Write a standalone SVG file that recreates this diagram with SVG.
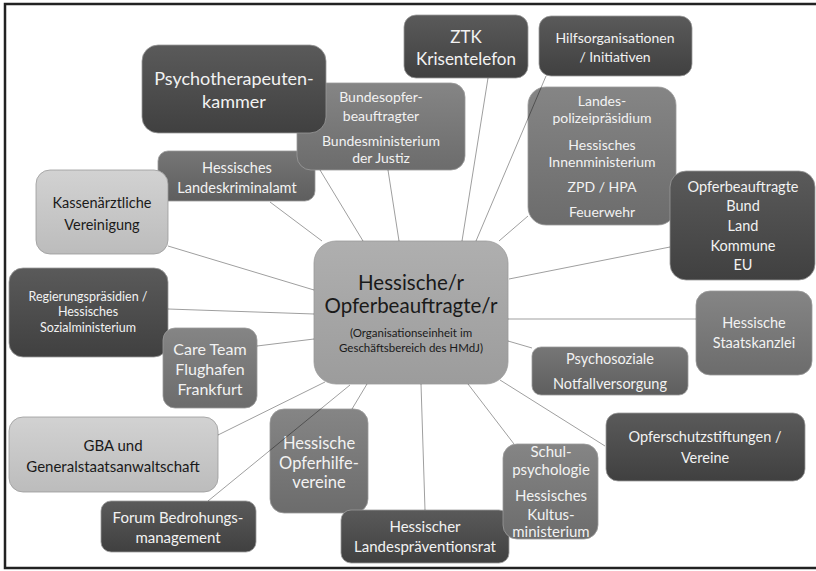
<svg xmlns="http://www.w3.org/2000/svg" width="816" height="571" viewBox="0 0 816 571">
<defs>
<linearGradient id="gDark" x1="0" y1="0" x2="0" y2="1"><stop offset="0" stop-color="#5a5a5a"/><stop offset="1" stop-color="#404040"/></linearGradient>
<linearGradient id="gMid" x1="0" y1="0" x2="0" y2="1"><stop offset="0" stop-color="#858585"/><stop offset="1" stop-color="#6c6c6c"/></linearGradient>
<linearGradient id="gMidD" x1="0" y1="0" x2="0" y2="1"><stop offset="0" stop-color="#767676"/><stop offset="1" stop-color="#5e5e5e"/></linearGradient>
<linearGradient id="gLight" x1="0" y1="0" x2="0" y2="1"><stop offset="0" stop-color="#d2d2d2"/><stop offset="1" stop-color="#bcbcbc"/></linearGradient>
<linearGradient id="gCenter" x1="0" y1="0" x2="0" y2="1"><stop offset="0" stop-color="#afafaf"/><stop offset="1" stop-color="#9c9c9c"/></linearGradient>
</defs>
<style>
rect.n{stroke:#9a9a9a;stroke-width:0.8}
.dark{fill:url(#gDark)}
.mid{fill:url(#gMid)}
.midd{fill:url(#gMidD)}
.light{fill:url(#gLight)}
.center{fill:url(#gCenter)}
text{font-family:Lato,"Open Sans","Liberation Sans",sans-serif;text-anchor:middle}
.w{fill:#f2f2f2}
.b{fill:#1a1a1a}
#connectors line{stroke:#000;stroke-opacity:0.38;stroke-width:1}
</style>
<rect x="0" y="0" width="816" height="571" fill="#ffffff"/>
<rect x="5" y="4" width="816" height="564" fill="none" stroke="#222" stroke-width="2.5"/>

<g id="n-lka"><rect class="n midd" x="158" y="151" width="157" height="50" rx="10"/>
<text class="w" font-size="14.5"><tspan x="237" y="173">Hessisches</tspan><tspan x="237" y="193">Landeskriminalamt</tspan></text></g>

<g id="n-bundesopfer"><rect class="n mid" x="297" y="83" width="168" height="87" rx="14"/>
<text class="w" font-size="14"><tspan x="381" y="102">Bundesopfer-</tspan><tspan x="381" y="121">beauftragter</tspan><tspan x="381" y="146">Bundesministerium</tspan><tspan x="381" y="163">der Justiz</tspan></text></g>

<g id="n-psychotherapeuten"><rect class="n dark" x="142" y="45" width="184" height="88" rx="16"/>
<text class="w" font-size="18"><tspan x="234" y="85">Psychotherapeuten-</tspan><tspan x="234" y="108">kammer</tspan></text></g>

<g id="n-kassen"><rect class="n light" x="36" y="170" width="132" height="84" rx="14"/>
<text class="b" font-size="14.5"><tspan x="102" y="208">Kassenärztliche</tspan><tspan x="102" y="230">Vereinigung</tspan></text></g>

<g id="n-ztk"><rect class="n dark" x="404" y="15" width="124" height="63" rx="12"/>
<text class="w" font-size="17"><tspan x="466" y="43">ZTK</tspan><tspan x="466" y="65">Krisentelefon</tspan></text></g>

<g id="n-hilfs"><rect class="n dark" x="539" y="16" width="153" height="60" rx="12"/>
<text class="w" font-size="14"><tspan x="615" y="43">Hilfsorganisationen</tspan><tspan x="615" y="62">/ Initiativen</tspan></text></g>

<g id="n-landespolizei"><rect class="n mid" x="528" y="87" width="148" height="138" rx="18"/>
<text class="w" font-size="14"><tspan x="602" y="106">Landes-</tspan><tspan x="602" y="123">polizeipräsidium</tspan><tspan x="602" y="150">Hessisches</tspan><tspan x="602" y="167">Innenministerium</tspan><tspan x="602" y="192">ZPD / HPA</tspan><tspan x="602" y="217">Feuerwehr</tspan></text></g>

<g id="n-opferbeauftragte"><rect class="n dark" x="670" y="171" width="145" height="109" rx="16"/>
<text class="w" font-size="14.5"><tspan x="743" y="192">Opferbeauftragte</tspan><tspan x="743" y="211">Bund</tspan><tspan x="743" y="231">Land</tspan><tspan x="743" y="251">Kommune</tspan><tspan x="743" y="270">EU</tspan></text></g>

<g id="n-center"><rect class="n center" x="314" y="241" width="194" height="143" rx="22"/>
<text class="b" font-size="20.5"><tspan x="411" y="290">Hessische/r</tspan><tspan x="411" y="313">Opferbeauftragte/r</tspan></text>
<text class="b" font-size="11.5"><tspan x="411" y="337">(Organisationseinheit im</tspan><tspan x="411" y="352">Geschäftsbereich des  HMdJ)</tspan></text></g>

<g id="n-regierung"><rect class="n dark" x="9" y="268" width="159" height="89" rx="14"/>
<text class="w" font-size="12.5"><tspan x="88" y="301">Regierungspräsidien /</tspan><tspan x="88" y="316">Hessisches</tspan><tspan x="88" y="332">Sozialministerium</tspan></text></g>

<g id="n-care"><rect class="n mid" x="163" y="328" width="94" height="80" rx="12"/>
<text class="w" font-size="16"><tspan x="210" y="355">Care Team</tspan><tspan x="210" y="375">Flughafen</tspan><tspan x="210" y="395">Frankfurt</tspan></text></g>

<g id="n-gba"><rect class="n light" x="9" y="417" width="209" height="75" rx="14"/>
<text class="b" font-size="15"><tspan x="113" y="451">GBA und</tspan><tspan x="113" y="472">Generalstaatsanwaltschaft</tspan></text></g>

<g id="n-opferhilfe"><rect class="n mid" x="270" y="409" width="98" height="104" rx="14"/>
<text class="w" font-size="16.5"><tspan x="319" y="449">Hessische</tspan><tspan x="319" y="469">Opferhilfe-</tspan><tspan x="319" y="488">vereine</tspan></text></g>

<g id="n-forum"><rect class="n dark" x="101" y="501" width="155" height="51" rx="10"/>
<text class="w" font-size="15"><tspan x="178" y="523">Forum Bedrohungs-</tspan><tspan x="178" y="543">management</tspan></text></g>

<g id="n-landespraev"><rect class="n dark" x="341" y="510" width="168" height="53" rx="10"/>
<text class="w" font-size="15"><tspan x="425" y="532">Hessischer</tspan><tspan x="425" y="552">Landespräventionsrat</tspan></text></g>

<g id="n-schul"><rect class="n mid" x="503" y="444" width="95" height="95" rx="14"/>
<text class="w" font-size="15"><tspan x="551" y="457">Schul-</tspan><tspan x="551" y="475">psychologie</tspan><tspan x="551" y="501">Hessisches</tspan><tspan x="551" y="520">Kultus-</tspan><tspan x="551" y="537">ministerium</tspan></text></g>

<g id="n-psychosozial"><rect class="n midd" x="532" y="347" width="156" height="48" rx="9"/>
<text class="w" font-size="14.5"><tspan x="610" y="364">Psychosoziale</tspan><tspan x="610" y="389">Notfallversorgung</tspan></text></g>

<g id="n-staatskanzlei"><rect class="n mid" x="696" y="291" width="116" height="84" rx="14"/>
<text class="w" font-size="14.5"><tspan x="754" y="328">Hessische</tspan><tspan x="754" y="348">Staatskanzlei</tspan></text></g>

<g id="n-opferschutz"><rect class="n dark" x="606" y="413" width="199" height="68" rx="12"/>
<text class="w" font-size="14.5"><tspan x="705" y="442">Opferschutzstiftungen /</tspan><tspan x="705" y="463">Vereine</tspan></text></g>

<g id="connectors">
<line x1="168" y1="246" x2="314" y2="290"/>
<line x1="270" y1="202" x2="322" y2="241"/>
<line x1="320" y1="170" x2="363" y2="241"/>
<line x1="388" y1="170" x2="399" y2="241"/>
<line x1="488" y1="78" x2="462" y2="241"/>
<line x1="546" y1="76" x2="476" y2="241"/>
<line x1="528" y1="216" x2="499" y2="241"/>
<line x1="670" y1="247" x2="509" y2="279"/>
<line x1="508" y1="319" x2="696" y2="319"/>
<line x1="508" y1="341" x2="532" y2="348"/>
<line x1="500" y1="380" x2="605" y2="446"/>
<line x1="468" y1="384" x2="514" y2="444"/>
<line x1="421" y1="384" x2="425" y2="510"/>
<line x1="367" y1="384" x2="352" y2="409"/>
<line x1="350" y1="385" x2="208" y2="501"/>
<line x1="325" y1="382" x2="218" y2="435"/>
<line x1="314" y1="339" x2="257" y2="346"/>
<line x1="314" y1="314" x2="168" y2="309"/>
</g>
</svg>
